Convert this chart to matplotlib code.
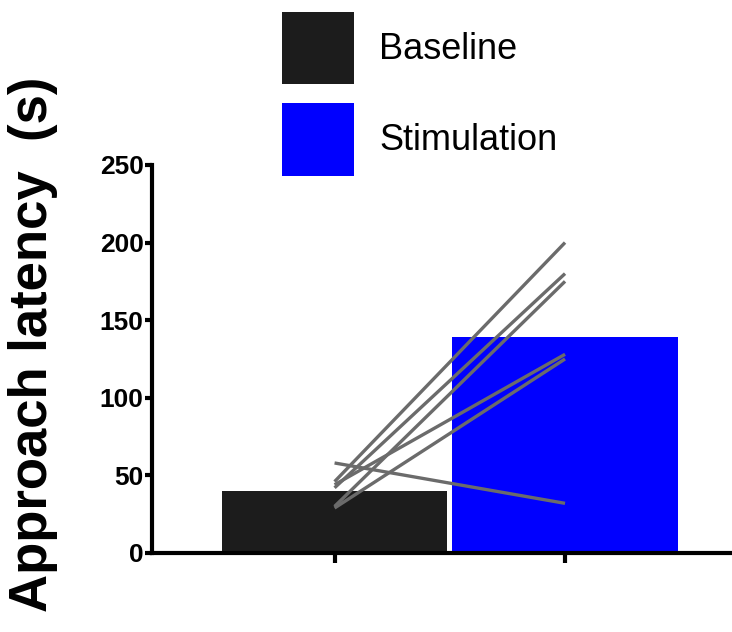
import matplotlib
matplotlib.use("Agg")
import matplotlib.pyplot as plt

# group means (bar heights)
groups = ["Baseline", "Stimulation"]
bar_means = [40, 139]
bar_colors = ["#1c1c1c", "#0000ff"]

# individual animals: baseline -> stimulation
baseline = [46, 42, 30, 44, 29, 58]
stimulation = [200, 180, 175, 128, 125, 32]

yticks = [0, 50, 100, 150, 200, 250]

plt.rcParams['font.family'] = ['Liberation Sans', 'DejaVu Sans']

fig = plt.figure(figsize=(7.32, 6.32), dpi=100)
ax = fig.add_axes([0.2077, 0.125, 0.9986 - 0.2077, 0.739 - 0.125])

xpos = list(range(len(groups)))
bars = ax.bar(xpos, bar_means, width=0.98, color=bar_colors, zorder=1)

for b, s in zip(baseline, stimulation):
    ax.plot(xpos, [b, s], color="#6b6b6b", lw=2.4, zorder=3, solid_capstyle='butt')

ax.set_xlim(-0.792, 1.72)
ax.set_ylim(0, 250)
ax.set_yticks(yticks)
ax.set_yticklabels([str(t) for t in yticks], fontsize=19, fontweight='bold')
ax.set_xticks(xpos)
ax.set_xticklabels([])

for side in ['top', 'right']:
    ax.spines[side].set_visible(False)
for side in ['left', 'bottom']:
    ax.spines[side].set_linewidth(3)
ax.tick_params(axis='y', length=5, width=3, pad=1)
ax.tick_params(axis='x', length=7, width=3)

fig.text(0.045, 0.455, "Approach latency  (s)", rotation=90, ha='center', va='center',
         fontsize=38, fontweight='bold')

fig.legend(bars, groups, loc='upper left', bbox_to_anchor=(0.385, 0.981),
           frameon=False, fontsize=26, borderpad=0, borderaxespad=0,
           handlelength=2.0, handleheight=2.7, handletextpad=0.7, labelspacing=0.53)

fig.savefig("out.png", dpi=100)
